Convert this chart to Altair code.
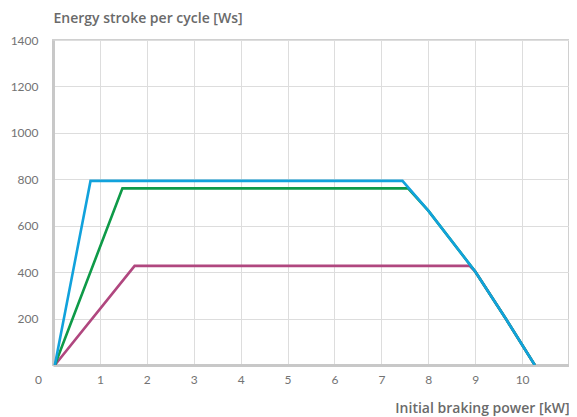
import altair as alt
import pandas as pd

# Series
blue_x = [0.04, 0.80, 7.45, 8.0, 9.0, 9.65, 10.27]
blue_y = [0, 793, 793, 665, 403, 200, 0]
green_x = [0.04, 1.48, 7.57, 8.0, 9.0, 9.65, 10.27]
green_y = [0, 761, 761, 665, 403, 200, 0]
purple_x = [0.04, 1.74, 8.88, 9.0, 9.65, 10.27]
purple_y = [0, 427, 427, 403, 200, 0]

series_names = ["purple", "green", "blue"]
series_colors = ["#b0477f", "#0e9a48", "#11a2dc"]

x_ticks = [0, 1, 2, 3, 4, 5, 6, 7, 8, 9, 10]
y_ticks = [200, 400, 600, 800, 1000, 1200, 1400]

rows = []
for name, xs, ys in [("blue", blue_x, blue_y), ("green", green_x, green_y), ("purple", purple_x, purple_y)]:
    for i, (a, b) in enumerate(zip(xs, ys)):
        rows.append({"series": name, "x": a, "y": b, "i": i})
df = pd.DataFrame(rows)

FONT = "Open Sans"
LFONT = "Lato"
W, H = 516, 325

xscale = alt.Scale(domain=[0, 11], nice=False)
yscale = alt.Scale(domain=[0, 1400], nice=False)
color = alt.Color("series:N", scale=alt.Scale(domain=series_names, range=series_colors), legend=None)

x_axis = alt.Axis(
    values=x_ticks, grid=True, ticks=False, labelPadding=9,
    labelExpr="toString(datum.value)",
    labelOverlap=False, labelFlush=False, labelBound=False,
    labelOffset={"condition": {"test": "datum.value == 0", "value": -15}, "value": 0},
    gridOpacity={"condition": {"test": "datum.value == 0", "value": 0}, "value": 1},
    labelFont=LFONT, labelFontSize=12, labelColor="#737373",
    domain=True, domainColor="#c8c8c8", domainWidth=3,
    gridColor="#dddddd", gridWidth=1,
    title="Initial braking power [kW]", titleFont=FONT, titleFontSize=14,
    titleFontWeight=600, titleColor="#6a6a6a", titleAngle=0,
    titleX=W, titleY=43, titleAlign="right", titleBaseline="middle",
)
y_axis = alt.Axis(
    values=y_ticks, grid=True, ticks=False, labelPadding=15,
    labelExpr="toString(datum.value)",
    labelOverlap=False, labelFlush=False,
    labelFont=LFONT, labelFontSize=12, labelColor="#737373",
    domain=True, domainColor="#c8c8c8", domainWidth=3,
    gridColor="#dddddd", gridWidth=1,
    title="Energy stroke per cycle [Ws]", titleFont=FONT, titleFontSize=14,
    titleFontWeight=600, titleColor="#6a6a6a", titleAngle=0,
    titleX=0, titleY=-22, titleAlign="left", titleBaseline="middle",
)

def line_for(name):
    return alt.Chart(df).transform_filter(alt.datum.series == name).mark_line(
        strokeWidth=2.6, strokeJoin="miter", clip=True
    ).encode(
        x=alt.X("x:Q", scale=xscale, axis=x_axis),
        y=alt.Y("y:Q", scale=yscale, axis=y_axis),
        color=color,
        order="i:Q",
    )

chart = alt.layer(line_for("purple"), line_for("green"), line_for("blue")).properties(
    width=W, height=H,
    autosize=alt.AutoSizeParams(type="none"),
    padding={"left": 45, "top": 32, "right": 0, "bottom": 52},
).configure_view(stroke="#d0d0d0", strokeWidth=2)

chart.save("out.html", embed_options={"renderer": "svg", "actions": False})
